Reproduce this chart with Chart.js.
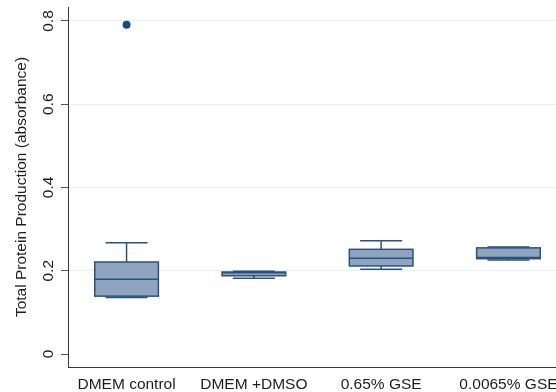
<!DOCTYPE html>
<html>
<head>
<meta charset="utf-8">
<title>Total Protein Production</title>
<script src="https://cdn.jsdelivr.net/npm/chart.js@4"></script>
<style>
  html, body { margin: 0; padding: 0; background: #ffffff; overflow: hidden; }
  #wrap { width: 556px; height: 392px; overflow: hidden; }
  canvas { display: block; }
</style>
</head>
<body>
<div id="wrap"><canvas id="chart" width="580" height="392"></canvas></div>
<script>
// Groups and box-plot summary values (absorbance)
const categories   = ['DMEM control', 'DMEM +DMSO', '0.65% GSE', '0.0065% GSE'];
const lowerWhisker = [0.136, 0.182, 0.2035, 0.226];
const quartile1    = [0.139, 0.188, 0.2115, 0.229];
const medians      = [0.1795, 0.195, 0.230, 0.232];
const quartile3    = [0.221, 0.197, 0.2515, 0.255];
const upperWhisker = [0.2675, 0.199, 0.272, 0.257];
// Outside values: group index (0-based) and value
const outlierGroup = [0];
const outlierValue = [0.791];
// Y axis ticks
const yTicks = [0, 0.2, 0.4, 0.6, 0.8];

const FONT = '"Liberation Sans", Arial, Helvetica, sans-serif';
const TEXT = '#1e1e1e';
const BOX_FILL = '#8fa4be';
const BOX_LINE = '#2b527e';
const BOX_HALF = 0.25;   // half box width, in category units
const CAP_HALF = 0.165;  // half whisker-cap width

// Draws boxes, whiskers and medians through the chart's scales
const boxPlotPlugin = {
  id: 'boxPlot',
  beforeDatasetsDraw(chart) {
    const { ctx, scales: { x, y } } = chart;
    ctx.save();
    ctx.lineWidth = 1.5;
    ctx.strokeStyle = BOX_LINE;
    categories.forEach((_, i) => {
      const c = i + 1;
      const xl = x.getPixelForValue(c - BOX_HALF);
      const xr = x.getPixelForValue(c + BOX_HALF);
      const xc = x.getPixelForValue(c);
      const cl = x.getPixelForValue(c - CAP_HALF);
      const cr = x.getPixelForValue(c + CAP_HALF);
      const yLo = y.getPixelForValue(lowerWhisker[i]);
      const yQ1 = y.getPixelForValue(quartile1[i]);
      const yMd = y.getPixelForValue(medians[i]);
      const yQ3 = y.getPixelForValue(quartile3[i]);
      const yHi = y.getPixelForValue(upperWhisker[i]);
      // whiskers
      ctx.beginPath();
      ctx.moveTo(xc, yQ3); ctx.lineTo(xc, yHi);
      ctx.moveTo(cl, yHi); ctx.lineTo(cr, yHi);
      ctx.moveTo(xc, yQ1); ctx.lineTo(xc, yLo);
      ctx.moveTo(cl, yLo); ctx.lineTo(cr, yLo);
      ctx.stroke();
      // box
      ctx.fillStyle = BOX_FILL;
      ctx.fillRect(xl, yQ3, xr - xl, yQ1 - yQ3);
      ctx.strokeRect(xl, yQ3, xr - xl, yQ1 - yQ3);
      // median
      ctx.beginPath();
      ctx.moveTo(xl, yMd); ctx.lineTo(xr, yMd);
      ctx.stroke();
    });
    ctx.restore();
  },
  // vertical y tick labels
  afterDraw(chart) {
    const { ctx, scales: { y } } = chart;
    ctx.save();
    ctx.fillStyle = TEXT;
    ctx.font = '15.5px ' + FONT;
    ctx.textAlign = 'center';
    ctx.textBaseline = 'alphabetic';
    yTicks.forEach(v => {
      ctx.save();
      ctx.translate(y.right - 15, y.getPixelForValue(v));
      ctx.rotate(-Math.PI / 2);
      ctx.fillText(String(v), 0, 0);
      ctx.restore();
    });
    ctx.restore();
  }
};

new Chart(document.getElementById('chart'), {
  type: 'scatter',
  data: {
    datasets: [{
      label: 'Outside values',
      data: outlierGroup.map((g, k) => ({ x: g + 1, y: outlierValue[k] })),
      pointRadius: 4,
      pointBackgroundColor: '#1c4a7a',
      pointBorderWidth: 0,
      pointHoverRadius: 4
    }]
  },
  options: {
    responsive: false,
    animation: false,
    devicePixelRatio: 1,
    layout: { padding: { top: 7, right: 13, left: 0, bottom: 0 } },
    plugins: { legend: { display: false }, tooltip: { enabled: false } },
    scales: {
      x: {
        type: 'linear',
        min: 0.54,
        max: 4.46,
        afterBuildTicks: s => { s.ticks = categories.map((_, i) => ({ value: i + 1 })); },
        afterFit: s => { s.height = 25; },
        grid: { display: false, drawTicks: false },
        border: { display: true, color: '#3a3a3a', width: 1 },
        ticks: {
          autoSkip: false,
          maxRotation: 0,
          padding: 8,
          color: TEXT,
          font: { family: FONT, size: 15.5 },
          callback: v => categories[v - 1]
        }
      },
      y: {
        min: -0.0312,
        max: 0.8336,
        afterBuildTicks: s => { s.ticks = yTicks.map(v => ({ value: v })); },
        afterFit: s => { s.width = 68; },
        grid: {
          color: c => (c.tick && c.tick.value === 0) ? 'rgba(0,0,0,0)' : '#e6eff1',
          tickColor: '#555555',
          tickLength: 7,
          lineWidth: 1
        },
        border: { display: true, color: '#3a3a3a', width: 1 },
        ticks: { display: false },
        title: {
          display: true,
          text: 'Total Protein Production (absorbance)',
          color: TEXT,
          font: { family: FONT, size: 15.5 },
          padding: { top: 12, bottom: 0 }
        }
      }
    }
  },
  plugins: [boxPlotPlugin]
});
</script>
</body>
</html>
